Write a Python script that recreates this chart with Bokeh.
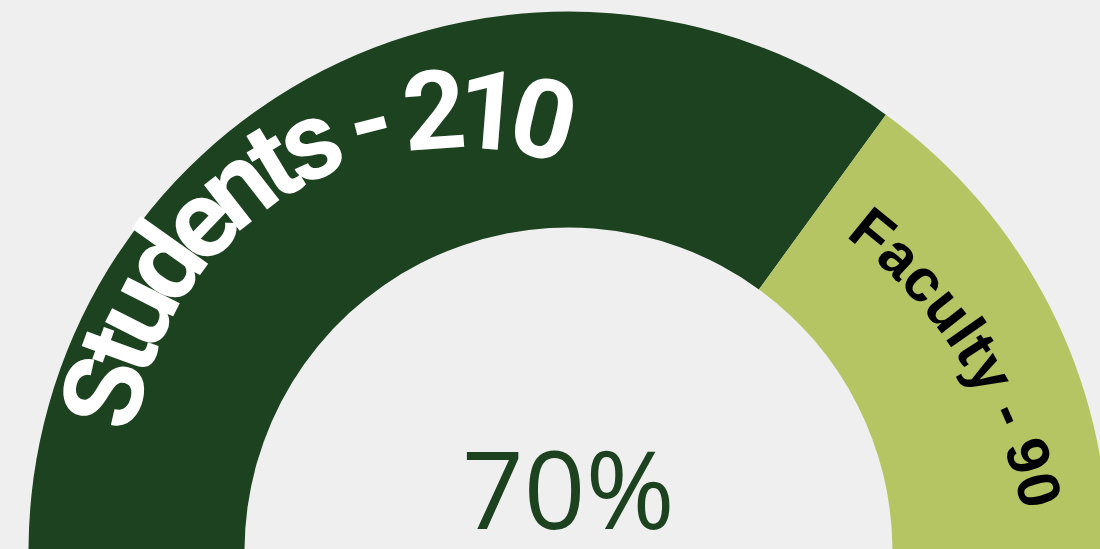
import math
from bokeh.plotting import figure
from bokeh.models import Range1d, ColumnDataSource
from bokeh.core.properties import value
from bokeh.embed import file_html
from bokeh.resources import INLINE

# ---- data ----
categories = ["Students", "Faculty"]
counts = [210, 90]
seg_colors = ["#1c4220", "#b6c563"]
label_colors = ["#ffffff", "#000000"]

BG = "#efefef"
W, H = 1100, 549
SHIFT = 0.37  # renderer places glyphs this many em below an "alphabetic" anchor

p = figure(width=W, height=H, x_range=Range1d(0, W), y_range=Range1d(-H, 0),
           output_backend="svg", toolbar_location=None, min_border=0,
           x_axis_location=None, y_axis_location=None,
           background_fill_color=BG, border_fill_color=BG, outline_line_color=None)
p.grid.visible = False

# ---- ring (half donut) ----
CX, CY = 568, -551
R_OUT, R_IN = 540, 324
total = sum(counts)
starts, ends = [], []
cum = 0.0
for c in counts:
    f0 = cum / total
    cum += c
    f1 = cum / total
    starts.append(math.pi * (1 - f1))
    ends.append(math.pi * (1 - f0))

src = ColumnDataSource(dict(cat=categories, start=starts, end=ends, color=seg_colors))
p.annular_wedge(x=CX, y=CY, inner_radius=R_IN, outer_radius=R_OUT,
                start_angle="start", end_angle="end", color="color", line_color=None,
                source=src)

# ---- curved labels ----
ROBOTO_BOLD = {"S": .594, "t": .338, "u": .551, "d": .561, "e": .529, "n": .552, "s": .515,
               " ": .25, "-": .28, "0": .562, "1": .562, "2": .562, "9": .562}
LIB_BOLD = {"F": .611, "a": .556, "c": .556, "u": .611, "l": .278, "t": .333, "y": .556,
            " ": .278, "-": .333, "0": .556, "9": .556}


def arc_text(label, widths, size, center, r_base, a_first, a_last, font, color):
    adv = [widths.get(ch, .55) * size for ch in label]
    mids, acc = [], 0.0
    for a in adv:
        mids.append(acc + a / 2)
        acc += a
    m0, m1 = mids[0], mids[-1]
    r = r_base + SHIFT * size
    xs, ys, ts, angs = [], [], [], []
    for ch, m in zip(label, mids):
        if ch == " ":
            continue
        th = math.radians(a_first + (m - m0) / (m1 - m0) * (a_last - a_first))
        xs.append(center[0] + r * math.cos(th))
        ys.append(center[1] + r * math.sin(th))
        ts.append(ch)
        angs.append(th - math.pi / 2)
    p.text(x=xs, y=ys, text=ts, angle=angs, text_font=value(font), text_font_style="bold",
           text_font_size=f"{size}px", text_align="center", text_baseline="alphabetic",
           text_color=color)


labels = [f"{c} - {v}" for c, v in zip(categories, counts)]
arc_text(labels[0], ROBOTO_BOLD, 110, (460, -473), 324, 167.2, 76.8, "Roboto", label_colors[0])
arc_text(labels[1], LIB_BOLD, 60, (559, -615), 473, 50.8, 14.7, "Liberation Sans", label_colors[1])

# ---- centre percentage ----
pct = round(100 * counts[0] / total)
FS = 108
p.text(x=[CX], y=[-527 + SHIFT * FS], text=[f"{pct}%"], text_font=value("Open Sans"),
       text_font_size=f"{FS}px", text_align="center", text_baseline="alphabetic",
       text_color=seg_colors[0])

html = file_html(p, INLINE)
html = html.replace("</head>", f"<style>html,body{{background:{BG};overflow:hidden;}}</style></head>", 1)
open("out.html", "w").write(html)
